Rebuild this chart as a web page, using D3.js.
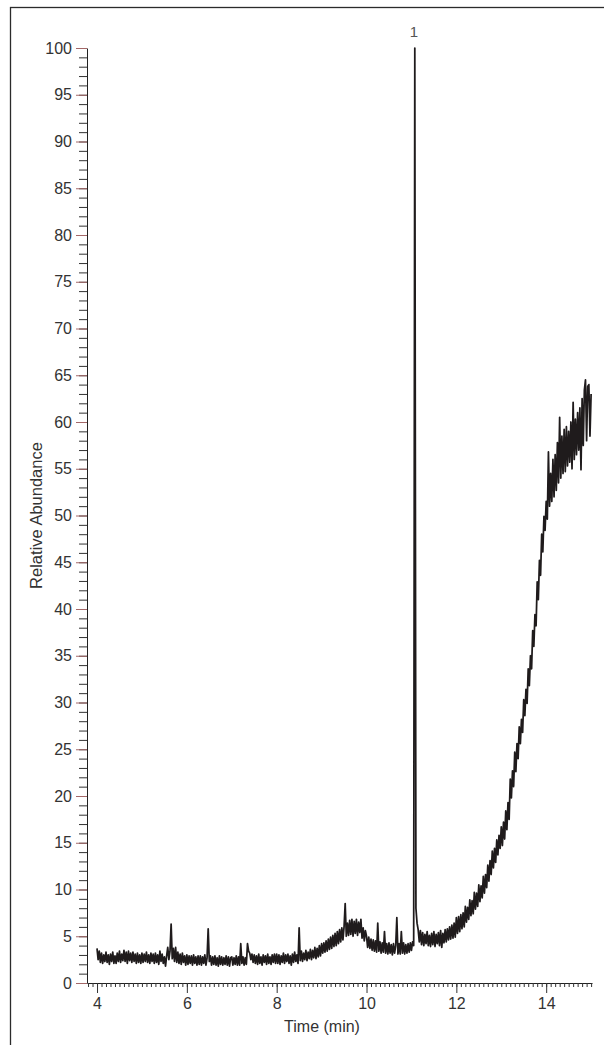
<!DOCTYPE html>
<html><head><meta charset="utf-8">
<script src="https://cdn.jsdelivr.net/npm/d3@7"></script>
<style>html,body{margin:0;padding:0;background:#fff;} svg{display:block;}</style>
</head><body>
<svg id="chart" width="604" height="1045"></svg>
<script>
// Sampling of the chromatogram trace (minutes)
const timeStart = 4;
const timeStep = 0.025;
// Relative abundance, one value per sample (4.000 ... 15.000 min)
const abundance = [
  // 4 min
  3.7,2.5,3.4,2.2,3.2,2.1,3.0,2.3,3.3,2.2, 3.0,2.0,3.1,2.3,3.3,2.1,2.9,2.1,3.2,2.3,
  3.4,2.2,3.1,2.4,3.5,2.3,3.3,2.1,3.4,2.4, 3.2,2.2,3.3,2.3,3.1,2.1,3.2,2.2,3.0,2.1,
  // 5 min
  3.2,2.2,3.1,2.3,3.3,2.2,3.0,2.1,3.2,2.3, 3.1,2.1,3.2,2.2,3.0,2.0,3.4,2.3,3.1,2.1,
  2.8,1.8,2.9,3.8,2.5,3.4,6.3,2.6,3.7,2.3, 3.8,2.2,3.3,2.1,3.1,2.0,3.2,2.2,2.9,1.9,
  // 6 min
  3.0,2.0,2.9,2.1,2.9,1.9,3.0,2.1,2.8,1.9, 2.9,2.0,2.9,1.9,2.8,2.1,3.0,1.9,2.7,5.8,
  2.3,2.9,1.9,2.8,2.0,2.9,1.9,2.7,1.8,2.9, 2.0,2.8,1.9,2.7,2.0,2.9,1.9,2.8,1.8,2.7,
  // 7 min
  2.8,1.9,2.7,2.0,2.9,1.9,2.8,1.9,4.2,2.1, 2.8,1.9,2.7,2.0,4.2,3.4,3.2,2.5,3.1,2.2,
  3.0,2.1,2.9,2.0,3.1,2.1,2.8,1.9,3.0,2.2, 2.9,2.0,3.1,2.1,2.8,2.0,3.0,2.2,3.1,2.1,
  // 8 min
  3.1,2.1,3.0,2.0,2.9,2.2,3.2,2.1,3.0,2.3, 3.1,2.1,2.9,1.9,3.1,2.2,3.3,2.3,3.0,2.1,
  5.9,2.4,3.4,2.3,3.2,2.5,3.5,2.4,3.3,2.6, 3.6,2.5,3.5,2.7,3.8,2.6,3.7,2.8,4.0,2.9,
  // 9 min
  4.2,3.2,4.3,3.3,4.5,3.4,4.7,3.6,4.9,3.7, 5.1,3.9,5.3,4.0,5.5,4.2,5.7,4.4,5.9,4.6,
  6.0,8.5,5.0,6.4,5.1,6.7,5.2,6.8,5.0,6.6, 5.3,6.8,5.1,6.5,5.4,6.8,4.8,5.9,4.5,5.6,
  // 10 min
  5.0,3.8,4.9,3.7,4.7,3.5,4.6,3.4,4.5,3.3, 6.4,3.4,4.4,3.2,4.3,3.3,5.5,3.2,4.2,3.1,
  4.3,3.2,4.1,3.0,4.2,3.2,4.0,7.0,3.1,4.2, 3.1,5.5,3.2,4.3,3.1,4.1,3.2,4.2,3.3,4.3,
  // 11 min
  3.5,4.4,4.0,100,8.0,6.4,5.7,4.4,5.6,4.1, 5.4,4.0,5.2,4.2,5.5,4.0,5.1,3.9,5.3,4.1,
  5.5,3.9,5.2,4.2,5.4,4.0,5.6,3.8,5.3,4.3, 5.7,4.4,5.8,4.6,6.0,4.7,6.2,4.8,6.4,4.9,
  // 12 min
  7.0,5.3,7.1,5.5,7.3,5.8,7.5,6.0,8.2,6.5, 8.1,6.8,8.9,7.2,8.8,7.4,9.7,7.9,9.6,8.2,
  10.5,8.7,10.4,9.1,11.4,9.6,11.6,10.2,12.6,10.9, 13.1,11.6,14.1,12.3,14.4,12.9,15.3,13.7,15.8,14.4,
  // 13 min
  16.7,14.7,17.2,15.4,18.4,16.4,19.3,17.5,21.8,19.8, 22.7,21.0,24.7,22.6,25.6,24.0,27.4,25.6,28.2,26.8,
  30.3,28.6,31.4,29.9,33.6,31.8,35.0,33.6,37.7,36.0, 39.4,38.2,42.9,41.0,45.2,43.6,48.0,46.1,49.9,48.4,
  // 14 - 15 min
  51.5,49.6,56.8,51.0,54.5,51.5,56.0,52.0,56.5,52.7, 57.8,53.5,60.5,54.0,58.5,54.5,59.2,54.7,59.5,55.3,
  59.0,55.7,60.0,55.0,62.1,56.0,60.3,56.5,61.0,57.0, 61.5,54.9,62.5,57.5,63.4,64.5,58.0,63.8,64.0,58.5,
  63.0
];
const yMajorTicks = [0,5,10,15,20,25,30,35,40,45,50,55,60,65,70,75,80,85,90,95,100];
const xMajorTicks = [4,6,8,10,12,14];
const peakNames = ["1"];
const peakTimes = [11.075];
const peakHeights = [100];
const xTitle = "Time (min)";
const yTitle = "Relative Abundance";

const times = abundance.map((_, i) => timeStart + i * timeStep);

const svg = d3.select("#chart");
const font = "'Liberation Sans', Arial, Helvetica, sans-serif";

const x = d3.scaleLinear().domain([3.777, 15.02]).range([87, 592]);
const y = d3.scaleLinear().domain([0, 100]).range([983, 48]);

// outer frame (partially visible)
svg.append("rect").attr("x", 10.5).attr("y", 7.5).attr("width", 800).attr("height", 1200)
  .attr("fill", "none").attr("stroke", "#2b2b2b").attr("stroke-width", 1.3);

// Y axis minor ticks + domain
const yMinor = svg.append("g").attr("transform", "translate(87,0)")
  .call(d3.axisLeft(y).tickValues(d3.range(0, 101, 1)).tickSize(8).tickSizeOuter(0).tickFormat(""));
yMinor.selectAll("line").attr("stroke", "#333");
yMinor.select(".domain").attr("stroke", "#222");

// Y axis major ticks with labels
const yMajor = svg.append("g").attr("transform", "translate(87,0)")
  .call(d3.axisLeft(y).tickValues(yMajorTicks).tickSize(11).tickPadding(4));
yMajor.select(".domain").remove();
yMajor.selectAll("line").attr("stroke", "#a46868");
yMajor.selectAll("text").attr("font-family", font).attr("font-size", 16).attr("fill", "#333");

// X axis minor ticks + domain
const xMinor = svg.append("g").attr("transform", "translate(0,983)")
  .call(d3.axisBottom(x).tickValues(d3.range(38, 151).map(d => d / 10)).tickSize(4).tickSizeOuter(0).tickFormat(""));
xMinor.selectAll("line").attr("stroke", "#333");
xMinor.select(".domain").attr("stroke", "#222");

const xMajor = svg.append("g").attr("transform", "translate(0,983)")
  .call(d3.axisBottom(x).tickValues(xMajorTicks).tickSize(10).tickPadding(5));
xMajor.select(".domain").remove();
xMajor.selectAll("line").attr("stroke", "#333");
xMajor.selectAll("text").attr("font-family", font).attr("font-size", 16).attr("fill", "#333");

// axis titles
svg.append("text").attr("x", 322).attr("y", 1031.5).attr("text-anchor", "middle")
  .attr("font-family", font).attr("font-size", 16).attr("fill", "#333").text(xTitle);
svg.append("text").attr("transform", "translate(41.5,515.5) rotate(-90)").attr("text-anchor", "middle")
  .attr("font-family", font).attr("font-size", 16.5).attr("fill", "#333").text(yTitle);

// trace
const line = d3.line().x((d, i) => x(times[i])).y(d => y(d));
svg.append("path").datum(abundance).attr("d", line)
  .attr("fill", "none").attr("stroke", "#1f1b1c").attr("stroke-width", 1.75)
  .attr("stroke-linejoin", "round");

// peak label
svg.selectAll(".peak").data(peakNames).enter().append("text")
  .attr("x", (d, i) => x(peakTimes[i]) - 1).attr("y", (d, i) => y(peakHeights[i]) - 11)
  .attr("text-anchor", "middle").attr("font-family", font).attr("font-size", 15).attr("fill", "#555")
  .text(d => d);
</script>
</body></html>
